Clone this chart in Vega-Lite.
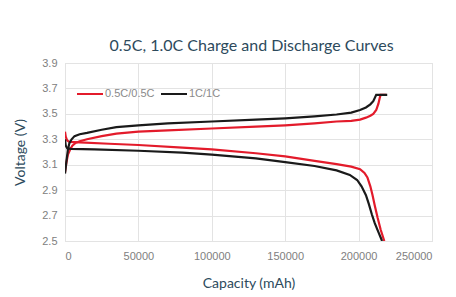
{
  "$schema": "https://vega.github.io/schema/vega-lite/v6.json",
  "width": 367,
  "height": 178,
  "autosize": {"type": "none"},
  "padding": {"left": 65, "top": 63, "right": 24, "bottom": 56},
  "background": "white",
  "title": {"text": "0.5C, 1.0C Charge and Discharge Curves", "font": "Lato", "fontSize": 16, "fontWeight": "normal", "color": "#2d4a5c", "offset": 3, "dx": 3},
  "datasets": {
    "curves": [
      {"series": "0.5C/0.5C", "phase": "charge", "cap": 0, "v": 3.04},
      {"series": "0.5C/0.5C", "phase": "charge", "cap": 1000, "v": 3.12},
      {"series": "0.5C/0.5C", "phase": "charge", "cap": 2000, "v": 3.18},
      {"series": "0.5C/0.5C", "phase": "charge", "cap": 3500, "v": 3.22},
      {"series": "0.5C/0.5C", "phase": "charge", "cap": 5000, "v": 3.25},
      {"series": "0.5C/0.5C", "phase": "charge", "cap": 7000, "v": 3.27},
      {"series": "0.5C/0.5C", "phase": "charge", "cap": 10000, "v": 3.285},
      {"series": "0.5C/0.5C", "phase": "charge", "cap": 15000, "v": 3.3},
      {"series": "0.5C/0.5C", "phase": "charge", "cap": 25000, "v": 3.325},
      {"series": "0.5C/0.5C", "phase": "charge", "cap": 35000, "v": 3.345},
      {"series": "0.5C/0.5C", "phase": "charge", "cap": 50000, "v": 3.36},
      {"series": "0.5C/0.5C", "phase": "charge", "cap": 70000, "v": 3.37},
      {"series": "0.5C/0.5C", "phase": "charge", "cap": 100000, "v": 3.385},
      {"series": "0.5C/0.5C", "phase": "charge", "cap": 130000, "v": 3.4},
      {"series": "0.5C/0.5C", "phase": "charge", "cap": 150000, "v": 3.41},
      {"series": "0.5C/0.5C", "phase": "charge", "cap": 170000, "v": 3.425},
      {"series": "0.5C/0.5C", "phase": "charge", "cap": 185000, "v": 3.44},
      {"series": "0.5C/0.5C", "phase": "charge", "cap": 195000, "v": 3.445},
      {"series": "0.5C/0.5C", "phase": "charge", "cap": 201000, "v": 3.455},
      {"series": "0.5C/0.5C", "phase": "charge", "cap": 205000, "v": 3.47},
      {"series": "0.5C/0.5C", "phase": "charge", "cap": 208000, "v": 3.485},
      {"series": "0.5C/0.5C", "phase": "charge", "cap": 210000, "v": 3.5},
      {"series": "0.5C/0.5C", "phase": "charge", "cap": 212000, "v": 3.53},
      {"series": "0.5C/0.5C", "phase": "charge", "cap": 213500, "v": 3.58},
      {"series": "0.5C/0.5C", "phase": "charge", "cap": 214500, "v": 3.63},
      {"series": "0.5C/0.5C", "phase": "charge", "cap": 215000, "v": 3.65},
      {"series": "0.5C/0.5C", "phase": "charge", "cap": 219000, "v": 3.65},
      {"series": "0.5C/0.5C", "phase": "discharge", "cap": 0, "v": 3.36},
      {"series": "0.5C/0.5C", "phase": "discharge", "cap": 500, "v": 3.32},
      {"series": "0.5C/0.5C", "phase": "discharge", "cap": 1500, "v": 3.29},
      {"series": "0.5C/0.5C", "phase": "discharge", "cap": 3000, "v": 3.28},
      {"series": "0.5C/0.5C", "phase": "discharge", "cap": 10000, "v": 3.275},
      {"series": "0.5C/0.5C", "phase": "discharge", "cap": 30000, "v": 3.265},
      {"series": "0.5C/0.5C", "phase": "discharge", "cap": 50000, "v": 3.255},
      {"series": "0.5C/0.5C", "phase": "discharge", "cap": 80000, "v": 3.235},
      {"series": "0.5C/0.5C", "phase": "discharge", "cap": 100000, "v": 3.22},
      {"series": "0.5C/0.5C", "phase": "discharge", "cap": 130000, "v": 3.19},
      {"series": "0.5C/0.5C", "phase": "discharge", "cap": 150000, "v": 3.165},
      {"series": "0.5C/0.5C", "phase": "discharge", "cap": 170000, "v": 3.13},
      {"series": "0.5C/0.5C", "phase": "discharge", "cap": 185000, "v": 3.105},
      {"series": "0.5C/0.5C", "phase": "discharge", "cap": 195000, "v": 3.085},
      {"series": "0.5C/0.5C", "phase": "discharge", "cap": 201000, "v": 3.065},
      {"series": "0.5C/0.5C", "phase": "discharge", "cap": 204000, "v": 3.035},
      {"series": "0.5C/0.5C", "phase": "discharge", "cap": 206000, "v": 3.0},
      {"series": "0.5C/0.5C", "phase": "discharge", "cap": 208000, "v": 2.93},
      {"series": "0.5C/0.5C", "phase": "discharge", "cap": 209500, "v": 2.86},
      {"series": "0.5C/0.5C", "phase": "discharge", "cap": 211000, "v": 2.78},
      {"series": "0.5C/0.5C", "phase": "discharge", "cap": 213000, "v": 2.68},
      {"series": "0.5C/0.5C", "phase": "discharge", "cap": 215000, "v": 2.59},
      {"series": "0.5C/0.5C", "phase": "discharge", "cap": 217500, "v": 2.5},
      {"series": "1C/1C", "phase": "charge", "cap": 0, "v": 3.03},
      {"series": "1C/1C", "phase": "charge", "cap": 1000, "v": 3.13},
      {"series": "1C/1C", "phase": "charge", "cap": 2000, "v": 3.22},
      {"series": "1C/1C", "phase": "charge", "cap": 3000, "v": 3.27},
      {"series": "1C/1C", "phase": "charge", "cap": 4500, "v": 3.3},
      {"series": "1C/1C", "phase": "charge", "cap": 6500, "v": 3.325},
      {"series": "1C/1C", "phase": "charge", "cap": 10000, "v": 3.34},
      {"series": "1C/1C", "phase": "charge", "cap": 15000, "v": 3.35},
      {"series": "1C/1C", "phase": "charge", "cap": 25000, "v": 3.375},
      {"series": "1C/1C", "phase": "charge", "cap": 35000, "v": 3.395},
      {"series": "1C/1C", "phase": "charge", "cap": 50000, "v": 3.41},
      {"series": "1C/1C", "phase": "charge", "cap": 70000, "v": 3.425},
      {"series": "1C/1C", "phase": "charge", "cap": 100000, "v": 3.44},
      {"series": "1C/1C", "phase": "charge", "cap": 130000, "v": 3.455},
      {"series": "1C/1C", "phase": "charge", "cap": 150000, "v": 3.465},
      {"series": "1C/1C", "phase": "charge", "cap": 170000, "v": 3.48},
      {"series": "1C/1C", "phase": "charge", "cap": 185000, "v": 3.495},
      {"series": "1C/1C", "phase": "charge", "cap": 195000, "v": 3.51},
      {"series": "1C/1C", "phase": "charge", "cap": 201000, "v": 3.53},
      {"series": "1C/1C", "phase": "charge", "cap": 205000, "v": 3.55},
      {"series": "1C/1C", "phase": "charge", "cap": 208000, "v": 3.575},
      {"series": "1C/1C", "phase": "charge", "cap": 210000, "v": 3.6},
      {"series": "1C/1C", "phase": "charge", "cap": 212000, "v": 3.65},
      {"series": "1C/1C", "phase": "charge", "cap": 219500, "v": 3.65},
      {"series": "1C/1C", "phase": "discharge", "cap": 0, "v": 3.3},
      {"series": "1C/1C", "phase": "discharge", "cap": 500, "v": 3.25},
      {"series": "1C/1C", "phase": "discharge", "cap": 1500, "v": 3.23},
      {"series": "1C/1C", "phase": "discharge", "cap": 4000, "v": 3.225},
      {"series": "1C/1C", "phase": "discharge", "cap": 20000, "v": 3.22},
      {"series": "1C/1C", "phase": "discharge", "cap": 50000, "v": 3.21},
      {"series": "1C/1C", "phase": "discharge", "cap": 80000, "v": 3.195},
      {"series": "1C/1C", "phase": "discharge", "cap": 100000, "v": 3.18},
      {"series": "1C/1C", "phase": "discharge", "cap": 130000, "v": 3.15},
      {"series": "1C/1C", "phase": "discharge", "cap": 150000, "v": 3.12},
      {"series": "1C/1C", "phase": "discharge", "cap": 170000, "v": 3.09},
      {"series": "1C/1C", "phase": "discharge", "cap": 185000, "v": 3.055},
      {"series": "1C/1C", "phase": "discharge", "cap": 194000, "v": 3.02},
      {"series": "1C/1C", "phase": "discharge", "cap": 199000, "v": 2.98},
      {"series": "1C/1C", "phase": "discharge", "cap": 202000, "v": 2.93},
      {"series": "1C/1C", "phase": "discharge", "cap": 205000, "v": 2.86},
      {"series": "1C/1C", "phase": "discharge", "cap": 207000, "v": 2.79},
      {"series": "1C/1C", "phase": "discharge", "cap": 209000, "v": 2.71},
      {"series": "1C/1C", "phase": "discharge", "cap": 211000, "v": 2.64},
      {"series": "1C/1C", "phase": "discharge", "cap": 213500, "v": 2.57},
      {"series": "1C/1C", "phase": "discharge", "cap": 216000, "v": 2.5}
    ]
  },
  "data": {"name": "curves"},
  "mark": {"type": "line", "strokeWidth": 2.2, "clip": true},
  "encoding": {
    "x": {
      "field": "cap", "type": "quantitative", "title": "Capacity (mAh)",
      "scale": {"domain": [0, 250000], "nice": false},
      "axis": {"values": [0, 50000, 100000, 150000, 200000, 250000], "format": "d", "labelPadding": 9, "titlePadding": 15}
    },
    "y": {
      "field": "v", "type": "quantitative", "title": "Voltage (V)",
      "scale": {"domain": [2.5, 3.9], "nice": false, "zero": false},
      "axis": {"values": [2.5, 2.7, 2.9, 3.1, 3.3, 3.5, 3.7, 3.9], "format": ".1f", "labelPadding": 8, "titlePadding": 14}
    },
    "color": {
      "field": "series", "type": "nominal",
      "scale": {"domain": ["0.5C/0.5C", "1C/1C"], "range": ["#e31b2b", "#1a1a1a"]},
      "legend": {
        "title": null, "orient": "none", "direction": "horizontal",
        "legendX": 11, "legendY": 17,
        "symbolType": "stroke", "symbolSize": 676, "symbolStrokeWidth": 2,
        "labelFont": "Liberation Sans", "labelFontSize": 11, "labelColor": "#8a8a8a",
        "labelOffset": 1, "columnPadding": 2
      }
    },
    "detail": {"field": "phase", "type": "nominal"}
  },
  "config": {
    "view": {"stroke": "#dcdcdc"},
    "axis": {
      "grid": true, "gridColor": "#e3e3e3", "domain": false, "ticks": false,
      "labelFont": "Liberation Sans", "labelFontSize": 11, "labelColor": "#808080",
      "titleFont": "Lato", "titleFontSize": 14, "titleFontWeight": "normal", "titleColor": "#2d4a5c"
    }
  }
}
